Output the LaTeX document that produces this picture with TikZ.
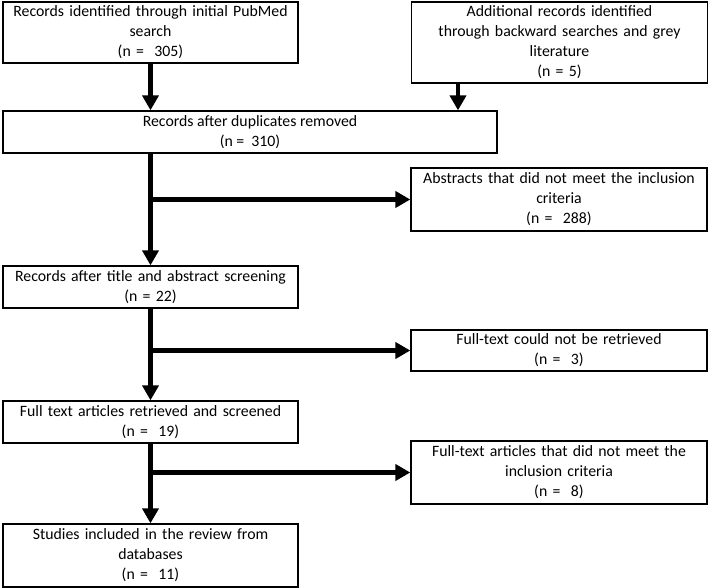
\documentclass[tikz,border=0pt]{standalone}
\usepackage{fontspec}
\setmainfont{Carlito}
\usetikzlibrary{arrows.meta}
\tikzset{
  box/.style={draw=black, line width=1.3pt, align=center, inner sep=0pt,
    font=\fontsize{15.8}{20}\selectfont},
  lbox/.style={box, minimum width=295pt, text width=292pt},
  rbox/.style={box, minimum width=296pt, text width=292pt},
  arr/.style={line width=4.8pt, -{Triangle[length=15pt,width=16pt]}},
}
\begin{document}
\begin{tikzpicture}[x=1pt,y=-1pt]
\useasboundingbox (0,0) rectangle (709,588);
\node[lbox, minimum height=61pt] (b1) at (150.5,32.5) {Records identified through initial PubMed\\search\\(n =~ 305)};
\node[rbox, minimum height=81pt] (b2) at (559.5,42.5) {Additional records identified\\through backward searches and grey\\literature\\(n = 5)};
\node[box, minimum width=494pt, minimum height=42pt] (b3) at (250,132) {Records after duplicates removed\\(n =~ 310)};
\node[rbox, minimum height=63pt] (b4) at (559,199.5) {Abstracts that did not meet the inclusion\\criteria\\(n =~ 288)};
\node[lbox, minimum height=42pt] (b5) at (150.5,287) {Records after title and abstract screening\\(n = 22)};
\node[rbox, minimum height=41pt] (b6) at (559,350.5) {Full-text could not be retrieved\\(n =~ 3)};
\node[lbox, minimum height=42pt] (b7) at (150.5,422) {Full text articles retrieved and screened\\(n =~ 19)};
\node[rbox, minimum height=63pt] (b8) at (559,472.5) {Full-text articles that did not meet the\\inclusion criteria\\(n =~ 8)};
\node[lbox, minimum height=63pt] (b9) at (150.5,555.5) {Studies included in the review from\\databases\\(n =~ 11)};
\coordinate (c2) at (458,0);
\draw[arr] (b1.south) -- (b1.south |- b3.north);
\draw[arr] (c2 |- b2.south) -- (c2 |- b3.north);
\draw[arr] (b5.north |- b3.south) -- (b5.north);
\draw[arr] (b5.north |- b4.west) -- (b4.west);
\draw[arr] (b5.south) -- (b7.north);
\draw[arr] (b5.south |- b6.west) -- (b6.west);
\draw[arr] (b7.south) -- (b9.north);
\draw[arr] (b7.south |- b8.west) -- (b8.west);
\end{tikzpicture}
\end{document}
